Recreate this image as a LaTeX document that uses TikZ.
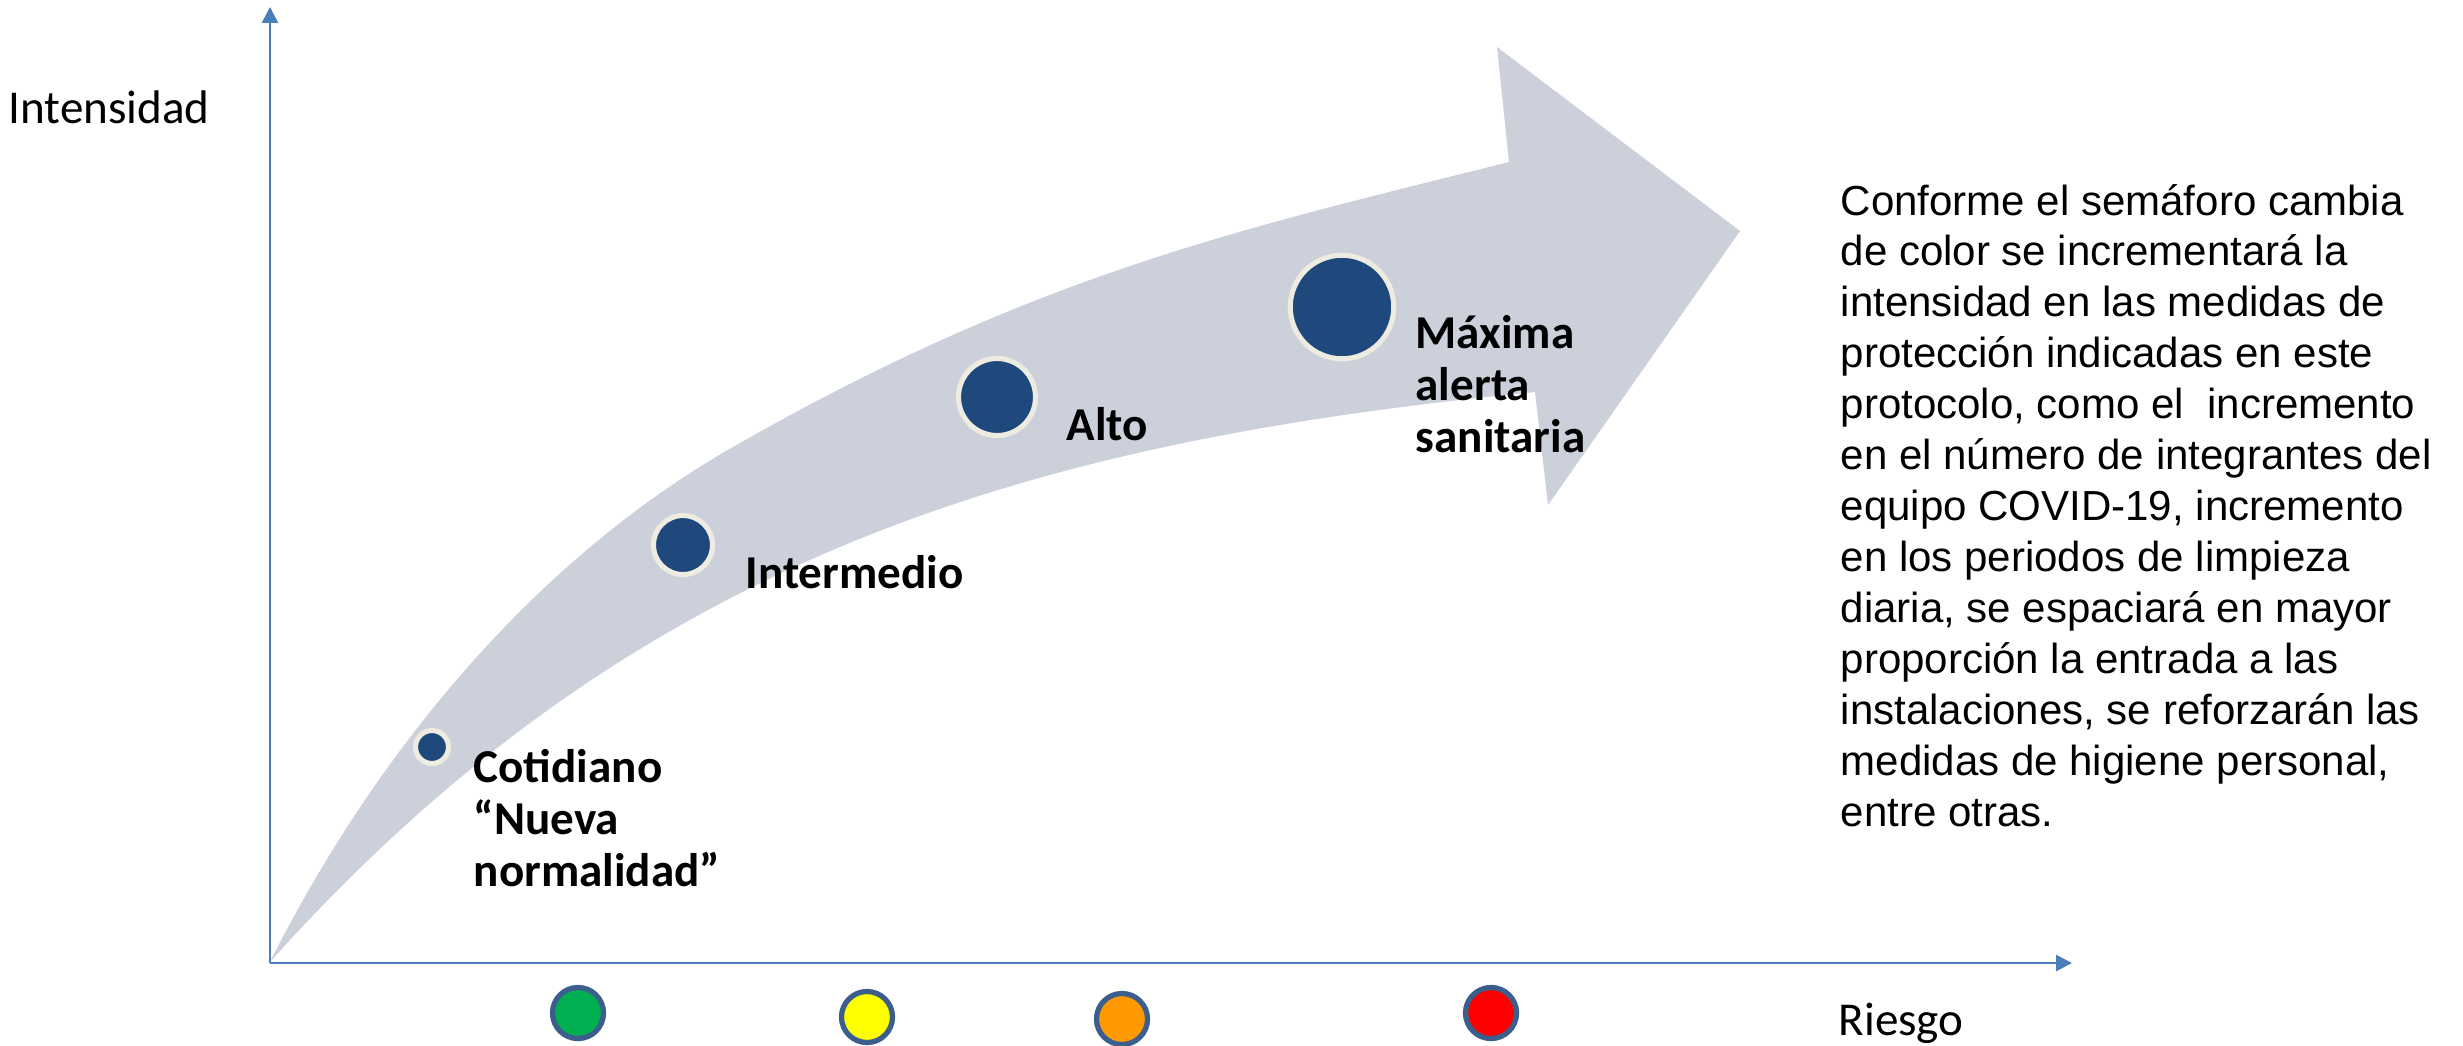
\documentclass[tikz,border=0pt]{standalone}
\usepackage{fontspec}
\setmainfont{Carlito}
\newfontfamily\arialf{Liberation Sans}
\usetikzlibrary{arrows.meta}
\definecolor{axisblue}{HTML}{4A7EBB}
\definecolor{bandgray}{HTML}{CCD0DA}
\definecolor{dotblue}{HTML}{1F497D}
\definecolor{cream}{HTML}{EEECE1}
\definecolor{ringblue}{HTML}{3B5E8C}
\definecolor{semgreen}{HTML}{00B050}
\definecolor{semyellow}{HTML}{FFFF00}
\definecolor{semorange}{HTML}{FF9900}
\definecolor{semred}{HTML}{FF0000}
\newcommand{\stacklines}[1]{\begin{tabular}[t]{@{}l@{}}#1\end{tabular}}
\begin{document}
\begin{tikzpicture}[x=0.01cm,y=-0.01cm,
  axis/.style={draw=axisblue, line width=0.77pt, -{Triangle[length=4.5pt,width=4.5pt]}},
  stage/.style={circle, fill=dotblue, draw=cream, line width=1.45pt, inner sep=0pt},
  light/.style={circle, draw=ringblue, line width=1.5pt, inner sep=0pt, minimum size=0.51cm},
  lbl/.style={anchor=base west, inner sep=0pt, font=\fontsize{13.4}{14.8}\selectfont\bfseries},
  axlbl/.style={anchor=base west, inner sep=0pt, font=\fontsize{13.4}{16}\selectfont},
  para/.style={anchor=base west, inner sep=0pt, font=\arialf\fontsize{11.95}{14.5}\selectfont}]
\useasboundingbox (0,0) rectangle (2463,1045);
% curved band arrow
\fill[bandgray] (270,962) .. controls (374,755) and (533,561) .. (733,447)
  .. controls (1037,273) and (1242,229) .. (1509,162)
  -- (1497,47) -- (1740,231) -- (1548,505) -- (1535,392)
  .. controls (1037,441) and (638,551) .. (270,962) -- cycle;
% axes
\coordinate (O) at (270,963);
\coordinate (ytip) at (270,7);
\coordinate (xtip) at (2072,963);
\draw[axis] (O) -- (ytip);
\draw[axis] (O) -- (xtip);
\node[axlbl] (intens) at (8,123) {Intensidad};
\node[axlbl] (riesgo) at (1838,1035) {Riesgo};
% stage dots
\node[stage, minimum size=0.33cm] (d1) at (432,747) {};
\node[stage, minimum size=0.59cm] (d2) at (683,545) {};
\node[stage, minimum size=0.77cm] (d3) at (997,397) {};
\node[stage, minimum size=1.035cm] (d4) at (1342,307) {};
% stage labels
\node[lbl] (l1) at (473,782) {\stacklines{Cotidiano\\“Nueva\\normalidad”}};
\node[lbl] (l2) at (745,588) {Intermedio};
\node[lbl] (l3) at (1066,440) {Alto};
\node[lbl] (l4) at (1415,348) {\stacklines{Máxima\\alerta\\sanitaria}};
% traffic lights
\node[light, fill=semgreen] (sg) at (578,1013) {};
\node[light, fill=semyellow] (sy) at (867,1017) {};
\node[light, fill=semorange] (so) at (1122,1019) {};
\node[light, fill=semred] (sr) at (1491,1013) {};
% paragraph
\node[para] (texto) at (1840,215) {\stacklines{Conforme el semáforo cambia\\
de color se incrementará la\\
intensidad en las medidas de\\
protección indicadas en este\\
protocolo, como el\ \ incremento\\
en el número de integrantes del\\
equipo COVID-19, incremento\\
en los periodos de limpieza\\
diaria, se espaciará en mayor\\
proporción la entrada a las\\
instalaciones, se reforzarán las\\
medidas de higiene personal,\\
entre otras.}};
\end{tikzpicture}
\end{document}
